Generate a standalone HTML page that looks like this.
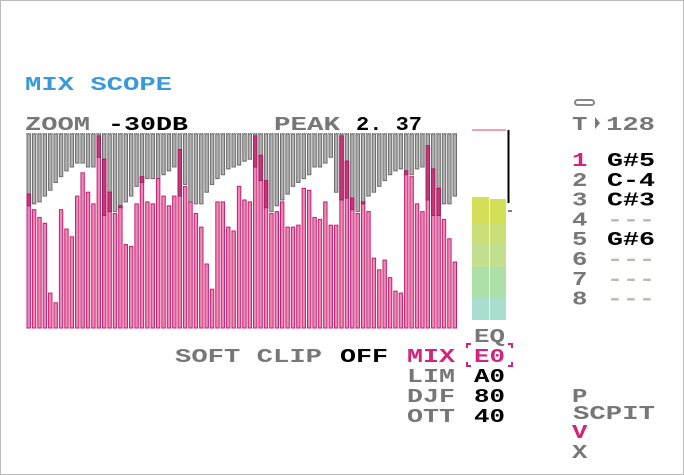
<!DOCTYPE html>
<html><head><meta charset="utf-8"><style>
html,body{margin:0;padding:0;background:#fff;}
svg{display:block;}
text{font-family:"Liberation Mono",monospace;font-weight:bold;font-size:19px;}
</style></head><body>
<svg id="scope" width="684" height="475" viewBox="0 0 684 475">
<rect x="0.5" y="0.5" width="683" height="474" fill="#fff" stroke="#bbb"/>
<text x="25" y="90" fill="#3a9ad9" textLength="147" lengthAdjust="spacingAndGlyphs">MIX SCOPE</text>
<text x="25" y="130" fill="#777" textLength="65" lengthAdjust="spacingAndGlyphs">ZOOM</text>
<text x="108" y="130" fill="#000" textLength="80" lengthAdjust="spacingAndGlyphs">-30DB</text>
<text x="274" y="130" fill="#777" textLength="66" lengthAdjust="spacingAndGlyphs">PEAK</text>
<text x="356" y="130" fill="#000" textLength="66" lengthAdjust="spacingAndGlyphs">2. 37</text>
<line x1="26" y1="133.5" x2="458" y2="133.5" stroke="#999" stroke-dasharray="1,1"/>
<g id="bars"></g>
<g>
<line x1="472" y1="130" x2="506" y2="130" stroke="#f4a0b4" stroke-width="2"/>
<line x1="508.5" y1="130" x2="508.5" y2="203" stroke="#000" stroke-width="2"/>
<line x1="508" y1="211" x2="512" y2="211" stroke="#000"/>
<rect x="472" y="197" width="17" height="27" fill="#d4df58"/>
<rect x="490" y="199" width="16" height="25" fill="#d4df58"/>
<rect x="472" y="224" width="34" height="19" fill="#cadf78"/>
<rect x="472" y="243" width="34" height="24" fill="#c1df8e"/>
<rect x="472" y="267" width="34" height="31" fill="#addfa8"/>
<rect x="472" y="298" width="34" height="22" fill="#a8ddd0"/>
<line x1="489.5" y1="197" x2="489.5" y2="320" stroke="#eef6e8"/>
</g>
<text x="474" y="342" fill="#777" textLength="31" lengthAdjust="spacingAndGlyphs">EQ</text>
<text x="175" y="362" fill="#777" textLength="147" lengthAdjust="spacingAndGlyphs">SOFT CLIP</text>
<text x="340" y="362" fill="#000" textLength="48" lengthAdjust="spacingAndGlyphs">OFF</text>
<text x="407" y="362" fill="#d0257a" textLength="48" lengthAdjust="spacingAndGlyphs">MIX</text>
<text x="474" y="362" fill="#d0257a" textLength="31" lengthAdjust="spacingAndGlyphs">E0</text>
<path d="M467 348v-4h4M508 344h4v4M467 362v4h4M508 366h4v-4" fill="none" stroke="#d0257a" stroke-width="2"/>
<text x="407" y="382" fill="#777" textLength="48" lengthAdjust="spacingAndGlyphs">LIM</text>
<text x="474" y="382" fill="#000" textLength="31" lengthAdjust="spacingAndGlyphs">A0</text>
<text x="407" y="402" fill="#777" textLength="48" lengthAdjust="spacingAndGlyphs">DJF</text>
<text x="474" y="402" fill="#000" textLength="31" lengthAdjust="spacingAndGlyphs">80</text>
<text x="407" y="422" fill="#777" textLength="48" lengthAdjust="spacingAndGlyphs">OTT</text>
<text x="474" y="422" fill="#000" textLength="31" lengthAdjust="spacingAndGlyphs">40</text>
<rect x="575" y="100" width="19" height="5" rx="2.5" fill="#fff" stroke="#888" stroke-width="2"/>
<text transform="translate(572,130) scale(1.35,1)" fill="#777">T</text>
<path d="M595 117l5 6-5 6z" fill="#777"/>
<text x="606" y="130" fill="#777" textLength="49" lengthAdjust="spacingAndGlyphs">128</text>
<g id="tracks"></g>
<text transform="translate(572,402) scale(1.35,1)" fill="#777">P</text>
<text x="573" y="419" fill="#777" textLength="82" lengthAdjust="spacingAndGlyphs">SCPIT</text>
<text transform="translate(572,438) scale(1.35,1)" fill="#d0257a">V</text>
<text transform="translate(572,458) scale(1.35,1)" fill="#777">X</text>
</svg>
<script>
const pinkLevels=[69,61,57,54,18,13,61,51,47,68,80,70,64,99,87,70,59,63,43,42,64,78,65,64,77,68,63,68,92,73,65,59,52,33,20,65,65,52,50,73,66,65,99,89,76,59,60,65,52,52,53,72,71,57,56,65,53,53,99,86,67,59,65,60,36,30,35,26,19,18,81,78,64,60,94,82,72,56,46,34];
const grayDepths=[37,36,35,32,29,25,22,19,17,15,15,17,17,12,42,40,40,38,35,32,27,25,23,23,23,21,19,17,32,26,35,36,36,30,26,23,21,18,17,16,14,13,17,24,38,40,37,34,31,27,25,23,21,17,17,15,12,30,34,33,39,40,36,32,30,27,24,21,19,18,21,21,18,17,34,42,42,36,36,32];
const trackNums=["1","2","3","4","5","6","7","8"];
const trackNotes=["G#5","C-4","C#3","---","G#6","---","---","---"];
const NS="http://www.w3.org/2000/svg";
const X0=26.5,X1=458,Y0=134,Y1=328;
const n=pinkLevels.length,pitch=(X1-X0)/n,bw=pitch-1;
const xS=i=>X0+i*pitch;
const yP=v=>Y1-v/100*(Y1-Y0);
const yG=v=>Y0+v/100*(Y1-Y0);
const g=document.getElementById('bars');
function r(x,y,w,h,f,s){const e=document.createElementNS(NS,'rect');e.setAttribute('x',x);e.setAttribute('y',y);e.setAttribute('width',w);e.setAttribute('height',Math.max(0,h));e.setAttribute('fill',f);if(s){e.setAttribute('stroke',s);e.setAttribute('stroke-width','1');}g.appendChild(e);return e;}
for(let i=0;i<n;i++){
 const x=xS(i),gb=yG(grayDepths[i]),pt=yP(pinkLevels[i]);
 const a=r(x+0.5,Y0,bw-1,gb-Y0,'#b0b0b0','#6c6c6c');
 
 
 const b=r(x+0.5,pt,bw-1,Y1-pt,'#e98ab8','#c81f6e');
 
 
 if(pt<gb){const c=r(x+0.5,pt,bw-1,gb-pt,'#c33a78','#a81c62');
 
 }
}
const t=document.getElementById('tracks');
for(let i=0;i<trackNums.length;i++){
 const y=166+i*19.8;
 const a=document.createElementNS(NS,'text');
 a.setAttribute('transform','translate(572,'+y+') scale(1.35,1)');
 a.setAttribute('fill',i===0?'#d0257a':'#777');
 
 
 a.textContent=trackNums[i];t.appendChild(a);
 const b=document.createElementNS(NS,'text');
 b.setAttribute('x',607);b.setAttribute('y',y);b.setAttribute('fill',trackNotes[i]==='---'?'#b8b8b0':'#000');
 b.setAttribute('textLength','48');b.setAttribute('lengthAdjust','spacingAndGlyphs');
 
 
 b.textContent=trackNotes[i];t.appendChild(b);
}
</script>
</body></html>
